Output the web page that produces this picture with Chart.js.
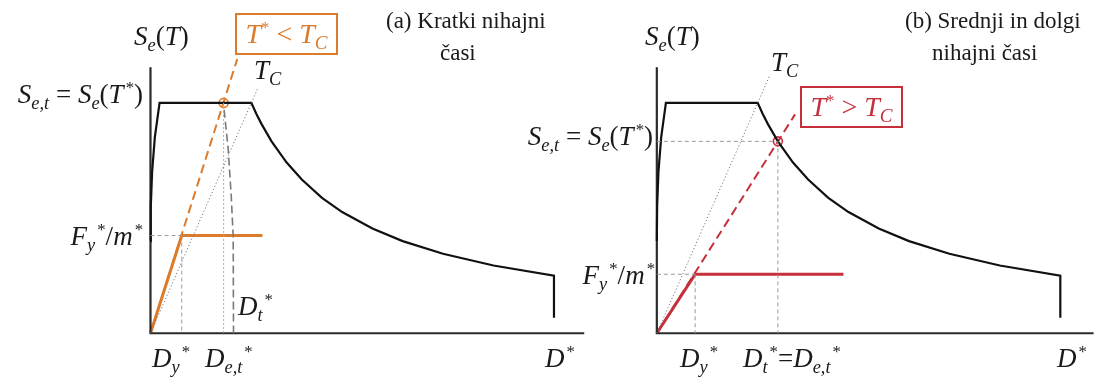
<!DOCTYPE html>
<html>
<head>
<meta charset="utf-8">
<script src="https://cdn.jsdelivr.net/npm/chart.js@4"></script>
<style>
  html, body { margin:0; padding:0; background:#fff; }
  #wrap { position:relative; width:1104px; height:380px; overflow:hidden; }
  canvas { position:absolute; left:0; top:0; }
  .lbl { position:absolute; white-space:nowrap; font-family:"Liberation Serif","Times New Roman",serif; color:#1a1a1a; line-height:1; }
  .lbl sub { font-size:0.68em; vertical-align:-0.32em; line-height:0; }
  .lbl sup { font-size:0.62em; vertical-align:0.62em; line-height:0; margin-left:2px; }
  .box { position:absolute; box-sizing:border-box; border:2px solid; display:flex; align-items:center; justify-content:center; font-family:"Liberation Serif","Times New Roman",serif; font-size:28px; line-height:1; }
  .box sub { font-size:0.68em; vertical-align:-0.32em; line-height:0; }
  .box sup { font-size:0.6em; vertical-align:0.6em; line-height:0; }
</style>
</head>
<body>
<div id="wrap"><canvas id="c" width="1104" height="380"></canvas></div>
<script>
// ---------- data (Sd normalised to plateau corner, Sa normalised to plateau) ----------
const spectrumSd = [0, 0.003, 0.016, 0.043, 0.09, 1, 1.05, 1.1, 1.2, 1.35, 1.5, 1.7, 1.9, 2.2, 2.5, 2.9, 3.4, 4, 4];
const spectrumSa = [0.4, 0.55, 0.7, 0.85, 1, 1, 0.952, 0.909, 0.833, 0.741, 0.667, 0.588, 0.526, 0.455, 0.4, 0.345, 0.294, 0.25, 0.067];
const axisTopSa = 1.155;
const axisEndSdA = 4.3;
const axisEndSdB = 4.33;

// panel (a): short periods
const tcLineA = [1.06, 1.06];          // end of dotted T_C ray
const tStarA = [0.725, 1.0];            // elastic demand point
const dashEndA = [0.86, 1.19];          // end of dashed elastic line
const yieldA = [0.31, 0.424];           // D_y*, F_y*/m*
const plasticEndA = 1.11;
const dtCurveSd = [0.73, 0.77, 0.80, 0.82, 0.823];
const dtCurveSa = [0.97, 0.80, 0.60, 0.42, 0];

// panel (b): medium and long periods
const tcLineB = [1.12, 1.12];
const tStarB = [1.2, 0.833];
const dashEndB = [1.37, 0.95];
const yieldB = [0.38, 0.256];
const plasticEndB = 1.85;

const BLACK = '#111111', AXIS = '#2b2b2b', ORANGE = '#DB7B2B', RED = '#C5303B', GRAY = '#9a9a9a', DGRAY = '#7a7a7a';

const pts = (xs, ys) => xs.map((x, i) => ({x, y: ys[i]}));
const seg = (a, b) => [{x:a[0], y:a[1]}, {x:b[0], y:b[1]}];

function line(data, axis, color, width, dash) {
  return { type:'scatter', showLine:true, data, xAxisID:axis, yAxisID:'y',
    borderColor:color, borderWidth:width, borderDash:dash || [], pointRadius:0, fill:false,
    tension:0, borderCapStyle:'butt', borderJoinStyle:'miter' };
}
function dot(p, axis, color) {
  return { type:'scatter', data:[{x:p[0], y:p[1]}], xAxisID:axis, yAxisID:'y',
    pointRadius:4.5, pointBorderWidth:1.6, pointBorderColor:color, pointBackgroundColor:'#ffffff', showLine:false };
}

const datasets = [];
function panel(ax, axisEnd, tcLine, tStar, dashEnd, yieldP, plasticEnd, col, isA) {
  datasets.push(line(seg([0, 0], tcLine), ax, '#6d7a8a', 1, [1.2, 2.2]));
  datasets.push(line(seg([0, yieldP[1]], yieldP), ax, GRAY, 1, [4, 3]));
  datasets.push(line(seg(yieldP, [yieldP[0], 0]), ax, GRAY, 1, [4, 3]));
  if (isA) {
    datasets.push(line(seg([tStar[0], tStar[1]], [tStar[0], 0]), ax, '#aaaaaa', 1, [2, 2]));
    datasets.push(line(pts(dtCurveSd, dtCurveSa), ax, DGRAY, 1.6, [8, 4]));
  } else {
    datasets.push(line(seg([0, tStar[1]], tStar), ax, GRAY, 1, [4, 3]));
    datasets.push(line(seg(tStar, [tStar[0], 0]), ax, GRAY, 1, [4, 3]));
  }
  datasets.push(line(pts(spectrumSd, spectrumSa), ax, BLACK, 2.2));
  datasets.push(line([{x:0, y:axisTopSa}, {x:0, y:0}, {x:axisEnd, y:0}], ax, AXIS, 2.2));
  datasets.push(line(seg([0, 0], dashEnd), ax, col, 2, [9, 5]));
  datasets.push(line([{x:0, y:0}, {x:yieldP[0], y:yieldP[1]}, {x:plasticEnd, y:yieldP[1]}], ax, col, 3));
  datasets.push(dot(tStar, ax, col));
}
panel('xa', axisEndSdA, tcLineA, tStarA, dashEndA, yieldA, plasticEndA, ORANGE, true);
panel('xb', axisEndSdB, tcLineB, tStarB, dashEndB, yieldB, plasticEndB, RED, false);

new Chart(document.getElementById('c'), {
  type:'scatter',
  data:{ datasets },
  options:{
    responsive:false, animation:false, devicePixelRatio:1,
    layout:{ padding:0 },
    plugins:{ legend:{display:false}, tooltip:{enabled:false}, title:{display:false} },
    scales:{
      xa:{ type:'linear', display:false, min:-146/102, max:958/102 },
      xb:{ type:'linear', display:false, min:-658/102, max:446/102 },
      y:{ type:'linear', display:false, min:-42/238, max:338/238 }
    }
  }
});

// ---------- text ----------
const wrap = document.getElementById('wrap');
function label(html, x, base, size, opts) {
  opts = opts || {};
  const d = document.createElement('div');
  d.className = 'lbl';
  d.innerHTML = html;
  d.style.fontSize = size + 'px';
  d.style.top = (base - 0.838 * size) + 'px';
  if (opts.right) d.style.right = (1104 - x) + 'px'; else d.style.left = x + 'px';
  if (opts.color) d.style.color = opts.color;
  wrap.appendChild(d);
}
function box(html, x, y, w, h, color) {
  const d = document.createElement('div');
  d.className = 'box';
  d.innerHTML = html;
  Object.assign(d.style, { left:x+'px', top:y+'px', width:w+'px', height:h+'px', borderColor:color, color:color });
  wrap.appendChild(d);
}
const SeT = '<i>S</i><sub><i>e</i></sub>(<i>T</i>)';
const SetEq = '<i>S</i><sub><i>e,t</i></sub> = <i>S</i><sub><i>e</i></sub>(<i>T</i><sup>*</sup>)';
const TC = '<i>T</i><sub><i>C</i></sub>';
const Fy = '<i>F</i><sub><i>y</i></sub><sup>*</sup>/<i>m</i><sup>*</sup>';

// panel (a)
label(SeT, 134, 46, 27);
label(SetEq, 143, 104, 27, {right:true});
label(TC, 254, 80, 27);
label('(a) Kratki nihajni', 386, 28, 23);
label('časi', 440, 60, 23);
label(Fy, 143, 246, 27, {right:true});
label('<i>D</i><sub><i>t</i></sub><sup>*</sup>', 238, 316, 27);
label('<i>D</i><sub><i>y</i></sub><sup>*</sup>', 152, 368, 27);
label('<i>D</i><sub><i>e,t</i></sub><sup>*</sup>', 205, 368, 27);
label('<i>D</i><sup>*</sup>', 545, 368, 27);
box('<span><i>T</i><sup>*</sup> &lt; <i>T</i><sub><i>C</i></sub></span>', 235, 13, 103, 42, ORANGE);

// panel (b)
label(SeT, 645, 46, 27);
label(SetEq, 653, 146, 27, {right:true});
label(TC, 771, 72, 27);
label('(b) Srednji in dolgi', 905, 28, 23);
label('nihajni časi', 932, 60, 23);
label(Fy, 655, 285, 27, {right:true});
label('<i>D</i><sub><i>y</i></sub><sup>*</sup>', 680, 368, 27);
label('<i>D</i><sub><i>t</i></sub><sup>*</sup>=<i>D</i><sub><i>e,t</i></sub><sup>*</sup>', 743, 368, 27);
label('<i>D</i><sup>*</sup>', 1057, 368, 27);
box('<span><i>T</i><sup>*</sup> &gt; <i>T</i><sub><i>C</i></sub></span>', 800, 86, 103, 42, RED);
</script>
</body>
</html>
